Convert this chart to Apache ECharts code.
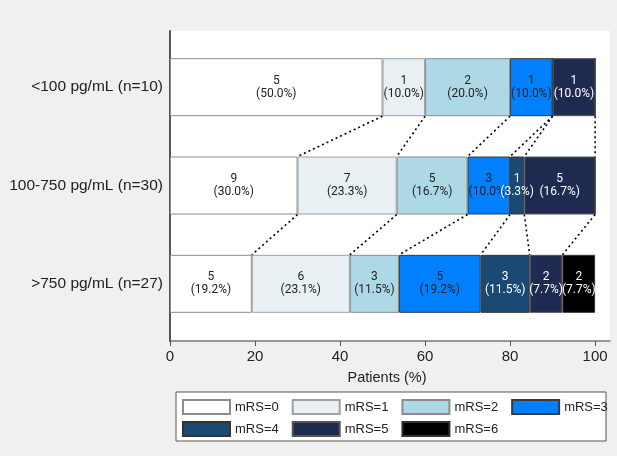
<!DOCTYPE html>
<html>
<head>
<meta charset="utf-8">
<script src="https://cdn.jsdelivr.net/npm/echarts@6/dist/echarts.min.js"></script>
<style>html,body{margin:0;padding:0;background:#f0f0f0;}#c{width:617px;height:456px;}</style>
</head>
<body>
<div id="c"></div>
<script>
// Categories (top to bottom)
const categories = ['<100 pg/mL (n=10)', '100-750 pg/mL (n=30)', '>750 pg/mL (n=27)'];
// mRS levels
const levels = ['mRS=0', 'mRS=1', 'mRS=2', 'mRS=3', 'mRS=4', 'mRS=5', 'mRS=6'];
// Patient counts per mRS level, one value per category
const mrs0 = [5, 9, 5];
const mrs1 = [1, 7, 6];
const mrs2 = [2, 5, 3];
const mrs3 = [1, 3, 5];
const mrs4 = [0, 1, 3];
const mrs5 = [1, 5, 2];
const mrs6 = [0, 0, 2];
const xTicks = [0, 20, 40, 60, 80, 100];

const counts = [mrs0, mrs1, mrs2, mrs3, mrs4, mrs5, mrs6];
const colors = ['#ffffff', '#e8f0f3', '#add8e6', '#0080ff', '#1a4a73', '#1f2a50', '#000000'];
const borders = ['#8c8c8c', '#a0a0a0', '#8c8c8c', '#3a3a3a', '#333333', '#555555', '#333333'];
const textColors = ['#222', '#222', '#222', '#222', '#fff', '#fff', '#fff'];

const totals = categories.map((_, r) => counts.reduce((s, arr) => s + arr[r], 0));
const pcts = counts.map(arr => arr.map((c, r) => c / totals[r] * 100));

// cumulative boundaries after each level
const cum = categories.map((_, r) => {
  let s = 0; return pcts.map(p => (s += p[r]));
});
// connectors between successive rows (boundaries after mRS0..mRS5)
const connectors = [];
for (let r = 0; r < categories.length - 1; r++) {
  for (let k = 0; k < levels.length - 1; k++) {
    connectors.push([cum[r][k], cum[r + 1][k], r]);
  }
}

const barSeries = levels.map((name, k) => ({
  name: name,
  type: 'bar',
  stack: 'total',
  xAxisIndex: 1,
  yAxisIndex: 1,
  barWidth: 58,
  itemStyle: { color: colors[k], borderColor: borders[k], borderWidth: 1 },
  label: {
    show: true,
    position: 'inside',
    fontFamily: 'Roboto',
    fontSize: 12,
    lineHeight: 13,
    color: textColors[k],
    formatter: p => p.data.count === 0 ? '' : p.data.count + '\n(' + p.data.value.toFixed(1) + '%)'
  },
  data: pcts[k].map((v, r) => ({ value: v, count: counts[k][r] }))
}));

const chart = echarts.init(document.getElementById('c'), null, { renderer: 'canvas' });
chart.setOption({
  animation: false,
  backgroundColor: '#f0f0f0',
  textStyle: { fontFamily: 'Liberation Sans' },
  grid: [
    { left: 170, right: 7, top: 31, bottom: 115, show: true, backgroundColor: '#ffffff', borderWidth: 0 },
    { left: 170, right: 7, top: 38, height: 295 }
  ],
  xAxis: [
    {
      gridIndex: 0, type: 'value', min: 0, max: 103.5,
      axisLine: { show: true, lineStyle: { color: '#777', width: 1.5 } },
      axisTick: { show: true, length: 5, customValues: xTicks, lineStyle: { color: '#555' } },
      axisLabel: { customValues: xTicks, fontSize: 15, color: '#222', margin: 8, fontFamily: 'Liberation Sans' },
      splitLine: { show: false },
      name: 'Patients (%)', nameLocation: 'middle', nameGap: 29,
      nameTextStyle: { fontSize: 14.5, color: '#222', fontFamily: 'Liberation Sans', padding: [0, 0, 0, -6] }
    },
    { gridIndex: 1, type: 'value', min: 0, max: 103.5, show: false }
  ],
  yAxis: [
    {
      gridIndex: 0, type: 'value', min: 0, max: 1,
      axisLine: { show: true, lineStyle: { color: '#555', width: 2 } },
      axisTick: { show: false }, axisLabel: { show: false }, splitLine: { show: false }
    },
    {
      gridIndex: 1, type: 'category', data: categories, inverse: true,
      axisLine: { show: false }, axisTick: { show: false },
      axisLabel: { fontSize: 15.5, color: '#222', margin: 7, fontFamily: 'Liberation Sans' }
    }
  ],
  graphic: [{
    type: 'rect', z: 1,
    shape: { x: 176, y: 392, width: 430, height: 49 },
    style: { fill: '#ffffff', stroke: '#555', lineWidth: 1 }
  }],
  legend: [
    {
      data: levels.slice(0, 4), left: 182, top: 399, padding: 0, z: 5,
      itemWidth: 47, itemHeight: 14, itemGap: 13, icon: 'rect',
      textStyle: { fontSize: 13, color: '#222', fontFamily: 'Liberation Sans' }
    },
    {
      data: levels.slice(4), left: 182, top: 421, padding: 0, z: 5,
      itemWidth: 47, itemHeight: 14, itemGap: 13, icon: 'rect',
      textStyle: { fontSize: 13, color: '#222', fontFamily: 'Liberation Sans' }
    }
  ],
  series: barSeries.concat([{
    type: 'custom',
    name: 'connectors',
    xAxisIndex: 1,
    yAxisIndex: 1,
    clip: false,
    z: 3,
    encode: { x: [0, 1], y: 2 },
    data: connectors,
    renderItem: function (params, api) {
      const r = api.value(2);
      const a = api.coord([api.value(0), r]);
      const b = api.coord([api.value(1), r + 1]);
      const half = 29;
      return {
        type: 'line',
        shape: { x1: a[0], y1: a[1] + half, x2: b[0], y2: b[1] - half },
        style: { stroke: '#000', lineWidth: 1.6, lineDash: [2, 3] }
      };
    }
  }])
});
</script>
</body>
</html>
